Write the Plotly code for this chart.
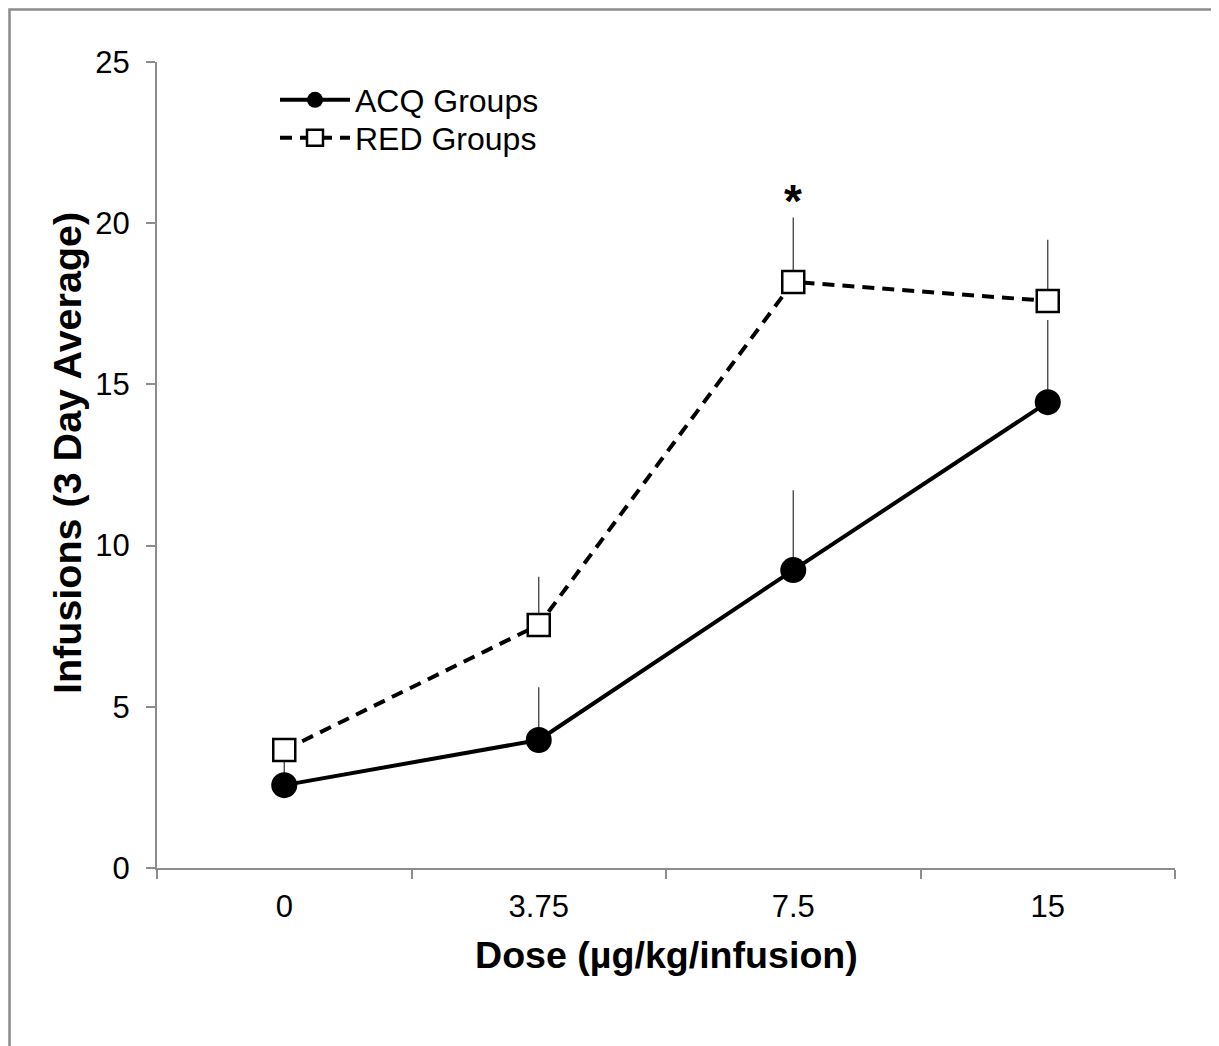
import plotly.graph_objects as go

doses = ["0", "3.75", "7.5", "15"]
acq_mean = [2.57, 3.97, 9.24, 14.45]
acq_err = [1.0, 1.64, 2.48, 2.55]
red_mean = [3.66, 7.54, 18.18, 17.59]
red_err = [0.3, 1.49, 2.0, 1.9]
y_ticks = [0, 5, 10, 15, 20, 25]

OFF = 8  # default page body margin
W, H = 1219 - OFF, 1046 - OFF
# plot area in screen pixels: x 157..1175, y 62..868
L, T = 157 - OFF, 62 - OFF
R = W - (1175 - OFF)
B = H - (868 - OFF)
PW, PH = W - L - R, H - T - B
FONT = "Liberation Sans, Arial, sans-serif"


def px(sx):
    return (sx - OFF - L) / PW


def py(sy):
    return 1 - (sy - OFF - T) / PH


fig = go.Figure()
fig.add_trace(go.Scatter(
    x=doses, y=acq_mean, name="ACQ Groups", mode="lines+markers",
    line=dict(color="black", width=4),
    marker=dict(symbol="circle", size=26, color="black"),
    error_y=dict(type="data", symmetric=False, array=acq_err,
                 arrayminus=[0] * 4, width=0, thickness=1.3, color="#404040"),
    legend="legend",
))
fig.add_trace(go.Scatter(
    x=doses, y=red_mean, name="RED Groups", mode="lines+markers",
    line=dict(color="black", width=4, dash="12px,8px"),
    marker=dict(symbol="square", size=22, color="white",
                line=dict(color="black", width=2.5)),
    error_y=dict(type="data", symmetric=False, array=red_err,
                 arrayminus=[0] * 4, width=0, thickness=1.3, color="#404040"),
    legend="legend2",
))

star_i = doses.index("7.5")
fig.add_annotation(x=star_i, y=red_mean[star_i] + red_err[star_i] + 0.5, text="<b>*</b>",
                   showarrow=False, font=dict(size=46, color="black", family=FONT))

# axis titles
fig.add_annotation(xref="paper", yref="paper", x=px(666), y=py(955),
                   text="<b>Dose (µg/kg/infusion)</b>", showarrow=False,
                   xanchor="center", yanchor="middle",
                   font=dict(size=37.6, family=FONT, color="black"))
fig.add_annotation(xref="paper", yref="paper", x=px(67), y=py(453),
                   text="<b>Infusions (3 Day Average)</b>", showarrow=False,
                   textangle=-90, xanchor="center", yanchor="middle",
                   font=dict(size=39.5, family=FONT, color="black"))

# outer frame (page-edge frame; top/left sit at the figure edge)
fig.add_shape(type="rect", xref="paper", yref="paper",
              x0=px(OFF + 1.5), x1=px(1215), y0=py(1080), y1=py(OFF + 1.5),
              line=dict(color="#8c8c8c", width=2.5), fillcolor="rgba(0,0,0,0)")

leg_common = dict(xanchor="left", yanchor="middle", bgcolor="rgba(0,0,0,0)",
                  font=dict(size=32, family=FONT, color="black"),
                  itemwidth=70, tracegroupgap=0)

fig.update_layout(
    width=W, height=H,
    margin=dict(l=L, r=R, t=T, b=B, autoexpand=False),
    plot_bgcolor="white", paper_bgcolor="white",
    font=dict(family=FONT, color="black", size=31),
    showlegend=True,
    legend=dict(x=px(275), y=py(100), **leg_common),
    legend2=dict(x=px(275), y=py(138), **leg_common),
    xaxis=dict(type="category", range=[-0.5, 3.5], tickson="boundaries",
               showline=True, linecolor="#8c8c8c", linewidth=2,
               ticks="outside", ticklen=9, tickcolor="#8c8c8c", tickwidth=1.5,
               showgrid=False, zeroline=False, ticklabelstandoff=10,
               tickfont=dict(size=31)),
    yaxis=dict(range=[0, 25], tickvals=y_ticks, showline=True, linecolor="#8c8c8c",
               linewidth=2, ticks="outside", ticklen=9, tickcolor="#8c8c8c", tickwidth=1.5,
               showgrid=False, zeroline=False, ticklabelstandoff=10,
               tickfont=dict(size=31)),
)

fig.write_html("out.html")
